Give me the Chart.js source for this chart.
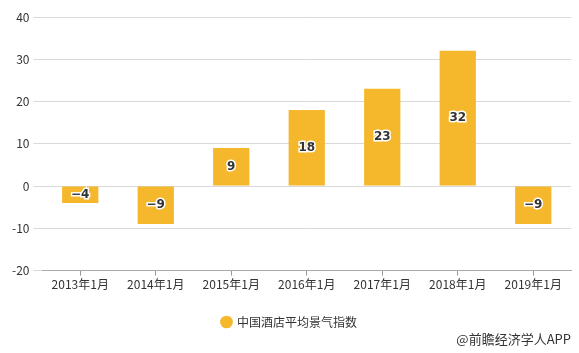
<!DOCTYPE html>
<html>
<head>
<meta charset="utf-8">
<script src="https://cdn.jsdelivr.net/npm/chart.js@4"></script>
<style>
  body { margin: 0; background: #fff; }
  #wrap { position: relative; width: 579px; height: 353px; }
  #src { position: absolute; right: 8px; bottom: 5px; font: 13px "Noto Sans CJK SC", sans-serif; color: #333; }
</style>
</head>
<body>
<div id="wrap">
  <canvas id="bar-chart" width="579" height="353"></canvas>
  <div id="src">@前瞻经济学人APP</div>
</div>
<script>
var chart_labels = ["2013年1月", "2014年1月", "2015年1月", "2016年1月", "2017年1月", "2018年1月", "2019年1月"];
var chart_index = [-4, -9, 9, 18, 23, 32, -9];
var series_name = "中国酒店平均景气指数";

// numbers in the middle of each bar
var barLabels = {
  id: 'barLabels',
  afterDatasetsDraw: function(chart) {
    var ctx = chart.ctx;
    var meta = chart.getDatasetMeta(0);
    ctx.save();
    ctx.font = 'bold 12px "DejaVu Sans", sans-serif';
    ctx.textAlign = 'center';
    ctx.textBaseline = 'middle';
    ctx.lineWidth = 3;
    ctx.strokeStyle = '#fff';
    ctx.fillStyle = '#333';
    meta.data.forEach(function(bar, i) {
      var v = chart_index[i];
      var txt = v < 0 ? '\u2212' + Math.abs(v) : String(v);
      var y = (bar.y + bar.base) / 2;
      ctx.strokeText(txt, bar.x, y);
      ctx.fillText(txt, bar.x, y);
    });
    ctx.restore();
  }
};

new Chart(document.getElementById("bar-chart"), {
  type: 'bar',
  data: {
    labels: chart_labels,
    datasets: [{
      data: chart_index,
      label: series_name,
      backgroundColor: "#F5B72B",
      categoryPercentage: 1,
      barPercentage: 0.48
    }]
  },
  options: {
    responsive: false,
    animation: false,
    layout: { padding: { left: 8, right: 8, top: 17, bottom: 15 } },
    plugins: {
      legend: {
        position: 'bottom',
        labels: {
          usePointStyle: true,
          pointStyle: 'circle',
          boxWidth: 9,
          boxHeight: 9,
          padding: 22,
          color: '#333',
          font: { size: 12, family: '"Noto Sans CJK SC", sans-serif' }
        }
      },
      tooltip: { enabled: false }
    },
    scales: {
      x: {
        grid: { offset: false, color: '#999', drawOnChartArea: false, drawTicks: true, tickLength: 5 },
        border: { color: '#aaa' },
        ticks: { color: '#333', font: { size: 12, family: '"Noto Sans CJK SC", sans-serif' }, padding: 2 }
      },
      y: {
        min: -20,
        max: 40,
        ticks: { stepSize: 10, color: '#333', font: { size: 12, family: '"Noto Sans CJK SC", sans-serif' }, padding: 4 },
        grid: { color: '#d9d9d9', drawTicks: true, tickLength: 9 },
        border: { display: false }
      }
    }
  },
  plugins: [barLabels]
});
</script>
</body>
</html>
